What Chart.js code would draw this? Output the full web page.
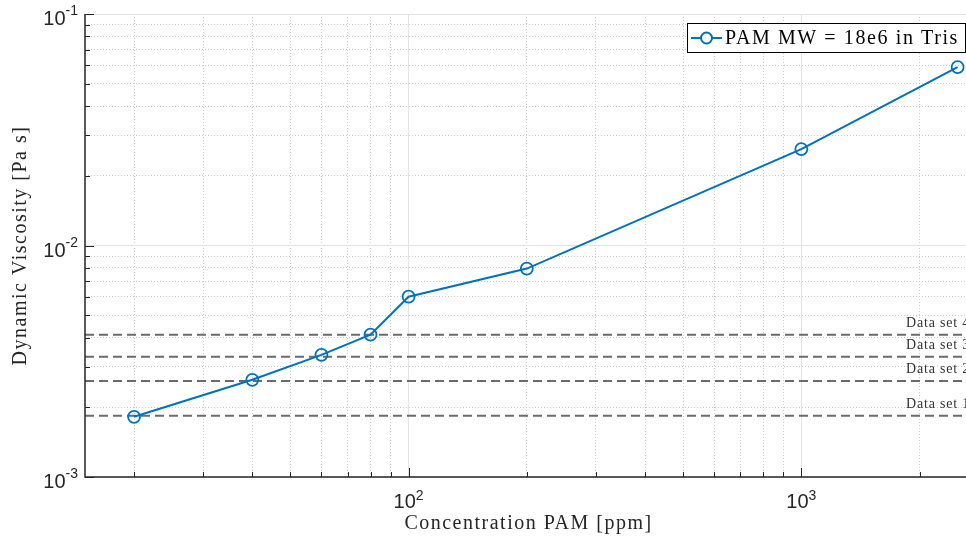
<!DOCTYPE html>
<html>
<head>
<meta charset="utf-8">
<script src="https://cdn.jsdelivr.net/npm/chart.js@4"></script>
<style>
  html, body { margin: 0; padding: 0; overflow: hidden; background: #fff; }
  canvas { display: block; }
</style>
</head>
<body>
<canvas id="viscosity-chart" width="980" height="544"></canvas>
<script>
// measured data, PAM MW = 18e6 in Tris
const concentration = [20, 40, 60, 80, 100, 200, 1000, 2500];
const viscosity = [0.00182, 0.00263, 0.00337, 0.00412, 0.00601, 0.00795, 0.0261, 0.059];

// reference levels (horizontal dashed lines)
const dataSetNames = ['Data set 1', 'Data set 2', 'Data set 3', 'Data set 4'];
const dataSetLevels = [0.00184, 0.00260, 0.00331, 0.00412];

// axis ticks
const xTicks = [20, 30, 40, 50, 60, 70, 80, 90, 100, 200, 300, 400, 500, 600, 700, 800, 900, 1000, 2000];
const xTickLabels = { 100: '2', 1000: '3' };
const yTicks = [0.001, 0.002, 0.003, 0.004, 0.005, 0.006, 0.007, 0.008, 0.009,
  0.01, 0.02, 0.03, 0.04, 0.05, 0.06, 0.07, 0.08, 0.09, 0.1];
const yTickLabels = { 0.001: '-3', 0.01: '-2', 0.1: '-1' };

const X_MIN = 15;
const X_MAX = 2720;
const Y_MIN = 0.001;
const Y_MAX = 0.1;

const BLUE = '#0072BD';
const AXIS = '#262626';
const SERIF = '"Liberation Serif", "DejaVu Serif", serif';
const SANS = '"Liberation Sans", Arial, sans-serif';

function isDecade(v) {
  const e = Math.log10(v);
  return Math.abs(e - Math.round(e)) < 1e-9;
}

function gridColor(ctx) {
  if (!ctx.tick) {
    return '#e3e3e3';
  }
  return isDecade(ctx.tick.value) ? '#e3e3e3' : '#cccccc';
}

function gridDash(ctx) {
  return ctx.tick && !isDecade(ctx.tick.value) ? [1, 2] : [];
}

// inward tick marks, power-of-ten labels, titles, legend and line labels
const matlabAxes = {
  id: 'matlabAxes',
  afterDraw(chart) {
    const ctx = chart.ctx;
    const area = chart.chartArea;
    const xs = chart.scales.x;
    const ys = chart.scales.y;
    ctx.save();

    // axis lines
    ctx.strokeStyle = AXIS;
    ctx.lineWidth = 1.5;
    ctx.beginPath();
    ctx.moveTo(area.left, area.top);
    ctx.lineTo(area.left, area.bottom);
    ctx.lineTo(area.right, area.bottom);
    ctx.stroke();

    // tick marks
    ctx.lineWidth = 1;
    ctx.beginPath();
    xTicks.forEach(function (v) {
      const px = Math.round(xs.getPixelForValue(v)) + 0.5;
      const len = isDecade(v) ? 9 : 5;
      ctx.moveTo(px, area.bottom);
      ctx.lineTo(px, area.bottom - len);
    });
    yTicks.forEach(function (v) {
      const py = Math.round(ys.getPixelForValue(v)) + 0.5;
      const len = isDecade(v) ? 9 : 5;
      ctx.moveTo(area.left, py);
      ctx.lineTo(area.left + len, py);
    });
    ctx.stroke();

    // tick labels 10^n
    ctx.fillStyle = AXIS;
    ctx.textBaseline = 'alphabetic';
    const baseFont = '20px ' + SANS;
    const expFont = '14px ' + SANS;
    Object.keys(xTickLabels).forEach(function (k) {
      const px = xs.getPixelForValue(Number(k));
      ctx.font = baseFont;
      const wBase = ctx.measureText('10').width;
      ctx.font = expFont;
      const wExp = ctx.measureText(xTickLabels[k]).width;
      const x0 = px - (wBase + wExp) / 2;
      ctx.textAlign = 'left';
      ctx.font = baseFont;
      ctx.fillText('10', x0, area.bottom + 31);
      ctx.font = expFont;
      ctx.fillText(xTickLabels[k], x0 + wBase, area.bottom + 23);
    });
    Object.keys(yTickLabels).forEach(function (k) {
      const py = ys.getPixelForValue(Number(k));
      ctx.font = expFont;
      const wExp = ctx.measureText(yTickLabels[k]).width;
      ctx.textAlign = 'right';
      ctx.fillText(yTickLabels[k], area.left - 7, py + 1);
      ctx.font = baseFont;
      ctx.fillText('10', area.left - 7 - wExp, py + 11);
    });

    // axis titles
    ctx.font = '20px ' + SERIF;
    ctx.letterSpacing = '1.5px';
    ctx.textAlign = 'center';
    ctx.textBaseline = 'middle';
    ctx.fillText('Concentration PAM [ppm]', (area.left + area.right) / 2, 524);
    ctx.save();
    ctx.translate(21, (area.top + area.bottom) / 2);
    ctx.rotate(-Math.PI / 2);
    ctx.fillText('Dynamic Viscosity [Pa s]', 0, 0);
    ctx.restore();

    // labels of the dashed lines
    ctx.font = '14px ' + SERIF;
    ctx.letterSpacing = '0.8px';
    ctx.textAlign = 'right';
    ctx.textBaseline = 'alphabetic';
    ctx.fillStyle = '#333';
    dataSetLevels.forEach(function (v, i) {
      const py = ys.getPixelForValue(v);
      ctx.fillText(dataSetNames[i], area.right - 2, py - 8);
    });

    // legend box
    const lx = 687, ly = 23, lw = 278, lh = 29;
    ctx.fillStyle = '#fff';
    ctx.fillRect(lx, ly, lw, lh);
    ctx.strokeStyle = '#000';
    ctx.lineWidth = 1;
    ctx.strokeRect(lx + 0.5, ly + 0.5, lw, lh);
    const my = ly + lh / 2 + 0.5;
    ctx.strokeStyle = BLUE;
    ctx.lineWidth = 2;
    ctx.beginPath();
    ctx.moveTo(lx + 4, my);
    ctx.lineTo(lx + 35, my);
    ctx.stroke();
    ctx.fillStyle = '#fff';
    ctx.beginPath();
    ctx.arc(lx + 19.5, my, 5.5, 0, Math.PI * 2);
    ctx.fill();
    ctx.stroke();
    ctx.fillStyle = '#000';
    ctx.font = '20px ' + SERIF;
    ctx.letterSpacing = '1.6px';
    ctx.textAlign = 'left';
    ctx.textBaseline = 'middle';
    ctx.fillText(chart.data.datasets[0].label, lx + 38, my + 1);

    ctx.restore();
  }
};

const levelDatasets = dataSetLevels.map(function (v, i) {
  return {
    label: dataSetNames[i],
    data: [{ x: X_MIN, y: v }, { x: X_MAX, y: v }],
    borderColor: '#6b6b6b',
    borderWidth: 2,
    borderDash: [9, 5],
    pointRadius: 0,
    order: 1
  };
});

new Chart(document.getElementById('viscosity-chart'), {
  type: 'line',
  data: {
    datasets: [
      {
        label: 'PAM MW = 18e6 in Tris',
        data: concentration.map(function (c, i) { return { x: c, y: viscosity[i] }; }),
        borderColor: BLUE,
        borderWidth: 2,
        pointRadius: 6,
        pointBorderWidth: 1.8,
        pointBackgroundColor: 'rgba(0,0,0,0)',
        pointBorderColor: BLUE,
        order: 0
      }
    ].concat(levelDatasets)
  },
  options: {
    responsive: false,
    animation: false,
    events: [],
    layout: { padding: { top: 14, right: 8, left: 0, bottom: 0 } },
    plugins: {
      legend: { display: false },
      tooltip: { enabled: false }
    },
    scales: {
      x: {
        type: 'logarithmic',
        min: X_MIN,
        max: X_MAX,
        afterBuildTicks: function (scale) {
          scale.ticks = xTicks.map(function (v) { return { value: v }; });
        },
        afterFit: function (scale) { scale.height = 67; },
        ticks: { display: false },
        grid: { color: gridColor, drawTicks: false, lineWidth: 1 },
        border: { display: true, color: 'rgba(0,0,0,0)', width: 0, dash: gridDash }
      },
      y: {
        type: 'logarithmic',
        min: Y_MIN,
        max: Y_MAX,
        afterBuildTicks: function (scale) {
          scale.ticks = yTicks.map(function (v) { return { value: v }; });
        },
        afterFit: function (scale) { scale.width = 85; },
        ticks: { display: false },
        grid: { color: gridColor, drawTicks: false, lineWidth: 1 },
        border: { display: true, color: 'rgba(0,0,0,0)', width: 0, dash: gridDash }
      }
    }
  },
  plugins: [matlabAxes]
});
</script>
</body>
</html>
